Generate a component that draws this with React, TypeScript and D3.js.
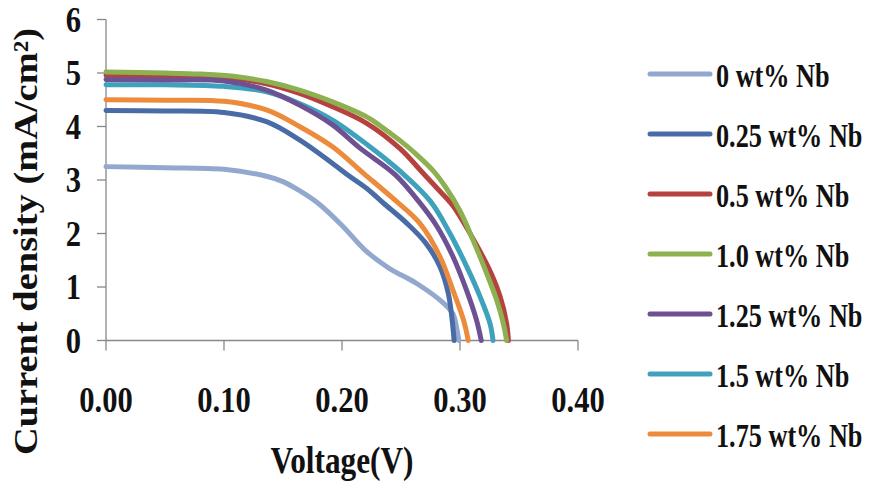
import React from "react";
import * as d3 from "d3";

// series labels + colours (Excel 2007 palette)
const seriesNames = ["0 wt% Nb", "0.25 wt% Nb", "0.5 wt% Nb", "1.0 wt% Nb", "1.25 wt% Nb", "1.5 wt% Nb", "1.75 wt% Nb"];
const seriesColors = ["#92a8cf", "#4a6ca6", "#b5423e", "#8db050", "#6e5192", "#3ea2bd", "#ec8b3c"];

// [voltage (V), current density (mA/cm2)]
const nb0 = [[0, 3.25], [0.05, 3.23], [0.1, 3.2], [0.136, 3.07], [0.15, 2.97], [0.164, 2.8], [0.18, 2.56], [0.2, 2.15], [0.22, 1.68], [0.24, 1.35], [0.263, 1.07], [0.286, 0.7], [0.294, 0.5], [0.297, 0.25], [0.299, 0]];
const nb025 = [[0, 4.3], [0.05, 4.29], [0.1, 4.26], [0.136, 4.09], [0.164, 3.75], [0.192, 3.31], [0.207, 3.06], [0.221, 2.84], [0.235, 2.57], [0.255, 2.19], [0.271, 1.82], [0.283, 1.38], [0.29, 0.89], [0.293, 0.45], [0.295, 0]];
const nb05 = [[0, 4.96], [0.05, 4.95], [0.1, 4.92], [0.136, 4.8], [0.164, 4.62], [0.192, 4.37], [0.221, 4.06], [0.249, 3.59], [0.269, 3.12], [0.28, 2.86], [0.294, 2.52], [0.3085, 2.0], [0.325, 1.32], [0.334, 0.82], [0.3395, 0.32], [0.341, 0]];
const nb10 = [[0, 5.02], [0.05, 5.0], [0.08, 4.98], [0.108, 4.94], [0.136, 4.84], [0.164, 4.68], [0.192, 4.46], [0.221, 4.18], [0.232, 4.02], [0.249, 3.74], [0.262, 3.5], [0.277, 3.18], [0.288, 2.86], [0.3, 2.42], [0.311, 1.88], [0.3225, 1.26], [0.331, 0.76], [0.3367, 0.32], [0.3395, 0]];
const nb125 = [[0, 4.88], [0.05, 4.87], [0.1, 4.85], [0.136, 4.68], [0.164, 4.4], [0.192, 4.03], [0.215, 3.6], [0.245, 3.1], [0.265, 2.6], [0.28, 2.15], [0.294, 1.57], [0.3055, 0.94], [0.314, 0.38], [0.318, 0]];
const nb15 = [[0, 4.78], [0.05, 4.78], [0.1, 4.75], [0.136, 4.65], [0.164, 4.43], [0.192, 4.12], [0.222, 3.65], [0.25, 3.15], [0.275, 2.6], [0.2915, 2.0], [0.3057, 1.38], [0.317, 0.82], [0.3254, 0.32], [0.328, 0]];
const nb175 = [[0, 4.5], [0.05, 4.49], [0.1, 4.47], [0.136, 4.31], [0.164, 4.0], [0.192, 3.62], [0.218, 3.13], [0.2435, 2.65], [0.266, 2.19], [0.283, 1.57], [0.294, 0.94], [0.303, 0.38], [0.307, 0]];

const seriesData = [nb0, nb025, nb05, nb10, nb125, nb15, nb175];
// drawing order: later lines are on top
const drawOrder = [0, 1, 6, 2, 5, 4, 3];

const xTicks = [0, 0.1, 0.2, 0.3, 0.4];
const yTicks = [0, 1, 2, 3, 4, 5, 6];

export default function App() {
  const width = 872;
  const height = 485;

  const x = d3.scaleLinear().domain([0, 0.4]).range([106, 578]);
  const y = d3.scaleLinear().domain([0, 6]).range([340.5, 19.5]);

  const line = d3.line<number[]>()
    .x(d => x(d[0]))
    .y(d => y(d[1]))
    .curve(d3.curveCatmullRom.alpha(0.5));

  const axisColor = "#888888";
  const font = "'Liberation Serif', 'Times New Roman', serif";

  return (
    <div>
      <style>{`body{margin:0;background:#fff}`}</style>
      <svg width={width} height={height} style={{ display: "block" }} fontFamily={font} fontWeight="bold">
        <rect width={width} height={height} fill="#fff" />

        {/* axes */}
        <line x1={x(0)} x2={x(0)} y1={y(6)} y2={y(0)} stroke={axisColor} strokeWidth={1.3} />
        <line x1={x(0)} x2={x(0.4)} y1={y(0)} y2={y(0)} stroke={axisColor} strokeWidth={1.3} />
        {yTicks.map(t => (
          <g key={"y" + t}>
            <line x1={x(0) - 9} x2={x(0)} y1={y(t)} y2={y(t)} stroke={axisColor} strokeWidth={1.3} />
            <text transform={`translate(81,${y(t) + 12}) scale(0.9,1.05)`} fontSize={34} textAnchor="end" fill="#111">{t}</text>
          </g>
        ))}
        {xTicks.map(t => (
          <g key={"x" + t}>
            <line x1={x(t)} x2={x(t)} y1={y(0)} y2={y(0) + 10} stroke={axisColor} strokeWidth={1.3} />
            <text transform={`translate(${x(t)},412) scale(0.9,1.05)`} fontSize={34} textAnchor="middle" fill="#111">{t.toFixed(2)}</text>
          </g>
        ))}

        {/* series */}
        {drawOrder.map(i => (
          <path key={i} d={line(seriesData[i] as number[][]) || ""} fill="none"
            stroke={seriesColors[i]} strokeWidth={5} strokeLinejoin="round" strokeLinecap="round" />
        ))}

        {/* axis titles */}
        <text x={342} y={473} fontSize={38} textAnchor="middle" textLength={143} lengthAdjust="spacingAndGlyphs" fill="#111">Voltage(V)</text>
        <text transform="translate(37,241.5) rotate(-90)" fontSize={34} textAnchor="middle" textLength={427} lengthAdjust="spacingAndGlyphs" fill="#111">
          Current density (mA/cm²)
        </text>

        {/* legend */}
        {seriesNames.map((name, i) => {
          const ly = 74 + i * 60;
          return (
            <g key={name}>
              <line x1={650} x2={710} y1={ly} y2={ly} stroke={seriesColors[i]} strokeWidth={5} strokeLinecap="round" />
              <text transform={`translate(716,${ly + 13}) scale(0.82,1.05)`} fontSize={32} fill="#111">{name}</text>
            </g>
          );
        })}
      </svg>
    </div>
  );
}
